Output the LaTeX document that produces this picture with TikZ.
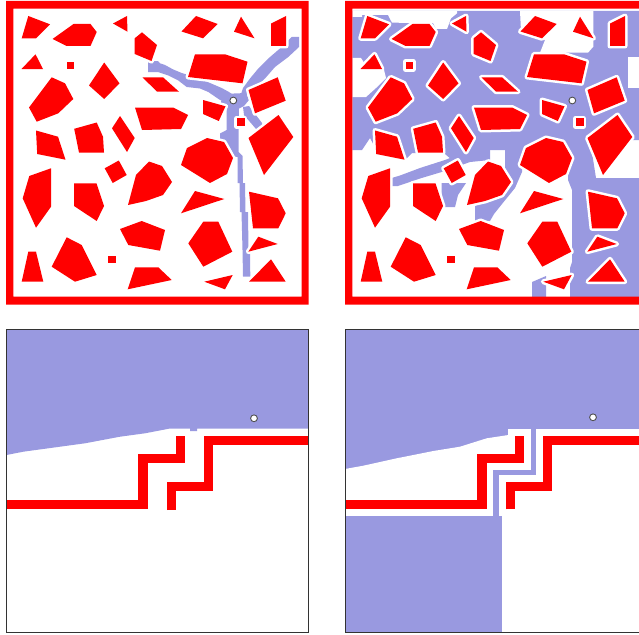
\documentclass[tikz,border=0pt]{standalone}
\definecolor{lav}{RGB}{153,153,224}
\definecolor{frameGray}{RGB}{51,51,51}
\definecolor{circGray}{RGB}{80,80,80}
\tikzset{
  halo/.style={draw=white, line width=5pt, line join=round},
  obst/.style={fill=red},
  redline/.style={draw=red, line width=9.3pt, line join=miter},
  haloline/.style={draw=white, line width=22.7pt, line join=miter},
  lavfill/.style={fill=lav},
  whitefill/.style={fill=white},
  goal/.style={circle, draw=circGray, fill=white, line width=0.9pt, minimum size=6.8pt, inner sep=0pt},
  panelframe/.style={draw=frameGray, line width=1pt},
  redframe/.style={fill=red, even odd rule},
}
\newcommand\obstacles[1]{%
\path[#1] (28.3,16)--(50,24.3)--(36,38.3)--(21.7,38.3)--cycle;
\path[#1] (52.5,39)--(73.5,24)--(90.5,24)--(96.7,32)--(90.5,46)--(66.5,46)--cycle;
\path[#1] (113,23.5)--(127,16)--(127.5,31.7)--cycle;
\path[#1] (134.7,38.3)--(142,32.3)--(157,45)--(151.5,61)--(134.7,54)--cycle;
\path[#1] (21.5,69)--(35.5,54.3)--(43,69)--cycle;
\path[#1] (66.5,61.7) rectangle (74.2,69.3);
\path[#1] (89,85.5)--(104.2,62.5)--(119.5,83.3)--(104.2,99)--cycle;
\path[#1] (142.5,77.3)--(163,77.3)--(179,91.7)--(157,91.7)--cycle;
\path[#1] (29,107.5)--(51.7,77.3)--(65,83.3)--(73.3,99)--(58.3,113.3)--(36.7,121.7)--cycle;
\path[#1] (135,107.5)--(173,107.5)--(188,115)--(181,129)--(142,130)--cycle;
\path[#1] (112,128.3)--(120,116)--(134.7,138)--(127,152)--cycle;
\path[#1] (74.2,128.8)--(96.7,122.5)--(103,136.7)--(104,152.5)--(79,152.5)--cycle;
\path[#1] (36,130.5)--(58,136.7)--(65.5,159.7)--(37.2,154)--cycle;
\path[#1] (22.7,198.3)--(29.3,176)--(51,168.3)--(51,206.7)--(36,227.7)--cycle;
\path[#1] (104.7,168.3)--(118.8,160.5)--(126.7,175)--(112.7,183)--cycle;
\path[#1] (74,183.3)--(96.5,183.3)--(104,206)--(96.7,221)--(74,206)--cycle;
\path[#1] (128,205)--(136,175)--(149,161.5)--(162,166)--(172,182)--(163,195)--(146,201)--cycle;
\path[#1] (120,229)--(141.7,221)--(165,230)--(160,250.7)--(128.3,245)--cycle;
\path[#1] (51.7,266.7)--(66.7,237.3)--(81.7,245)--(96.7,275)--(75,281.7)--cycle;
\path[#1] (21.7,281.7)--(28.3,251.7)--(36,251.7)--(43.3,281.7)--cycle;
\path[#1] (108.3,256) rectangle (115.7,263.3);
\path[#1] (127.7,289.3)--(135,267.3)--(158.3,267.3)--(171.7,280)--cycle;
\path[#1] (181,165)--(187,148)--(207,138)--(224,142)--(233,158)--(227,174)--(210,183)--cycle;
\path[#1] (248.5,138)--(278.5,115)--(293.3,137)--(264,175)--cycle;
\path[#1] (249,191.7)--(278,198.3)--(285.7,213.3)--(278.3,228.3)--(253,228.3)--cycle;
\path[#1] (248.3,251.7)--(258.3,236.7)--(277.7,244)--cycle;
\path[#1] (249,281.7)--(271,259.3)--(285.7,281.7)--cycle;
\path[#1] (188.3,243.3)--(203.3,221.7)--(218.3,221.7)--(232.3,251.7)--(203.3,266.7)--cycle;
\path[#1] (181,213.3)--(195,191)--(224.3,199)--cycle;
\path[#1] (204.3,281.7)--(232.7,275)--(225,289.3)--cycle;
\path[#1] (181.5,31.5)--(196,16)--(217.7,24)--(203,38.3)--cycle;
\path[#1] (234,31.7)--(241,16.7)--(254.5,38.3)--cycle;
\path[#1] (271,23.5)--(286,16)--(286,46)--(271,46)--cycle;
\path[#1] (188,77)--(195,54.3)--(225,54.3)--(247.5,61.7)--(242.5,83.3)--cycle;
\path[#1] (248.5,90)--(277.7,77.3)--(285.7,100.7)--(255,113.3)--cycle;
\path[#1] (203,100)--(225.5,106.3)--(218.8,121)--(203,114)--cycle;
\path[#1] (236.7,118.3) rectangle (244.5,126.3);
}
\begin{document}
\begin{tikzpicture}[x=1pt,y=-1pt]
\clip (0,0) rectangle (639,634);
\useasboundingbox (0,0) rectangle (639,634);

% ---------- top left panel ----------
\path[lavfill] (148,61)--(158,61)--(160,63.3)--(165,65)--(173.3,69.5)--(181.7,73)--(191.7,76)--(201.7,79.5)--(210,83)--(221.7,88)--(229,92)--(236,97)--(232,104)--(220,100)--(208.3,92)--(200,88.5)--(186.7,87)--(178.3,80.5)--(168.3,75.5)--(158,72)--(148,72)--cycle;
\path[lavfill] (291.7,37)--(299,37)--(299,47)--(288.3,57)--(275,67)--(265,78.5)--(255,87.5)--(247,95)--(240,97)--(243,88)--(250,78.5)--(258.3,68.5)--(270,57)--(281.7,47)--cycle;
\path[lavfill] (222,94)--(246,93)--(249,100)--(244,106)--(239,108.5)--(238.5,133)--(238.5,152)--(242.5,156)--(243,183)--(245,183)--(245.5,212)--(248,212)--(248.5,250)--(250,250)--(250.3,276.5)--(243,276.5)--(242.5,250)--(241.5,212)--(240,212)--(239.5,183)--(237.5,183)--(237.5,157)--(231,156)--(225,153)--(220,150)--(220,133.5)--(226.7,130)--(226.7,108)--(221,103)--cycle;
\path[lavfill] (243,107)--(249,106)--(262,123)--(262,129)--(256,129)--(244,115)--cycle;
\obstacles{halo}
\obstacles{obst}
\path[redframe] (6,1) rectangle (308.5,304.5) (13.3,8.7) rectangle (301.5,296.7);
\node[goal] (goalA) at (233.3,100.5) {};

% ---------- top right panel ----------
\begin{scope}
\clip (352.3,8.7) rectangle (639,296.7);
\path[lavfill] (352,11)--(639,11)--(639,140)--(570,140)--(570,165)--(522,165)--(522,150)--(470,150)--(452,160)--(445,154)--(412,153)--(405,160)--(377,151)--(370,138)--(362,150)--(352,150)--cycle;
\path[whitefill] (352,11)--(457,11)--(457,13.3)--(451,18.3)--(447,29)--(436,29)--(433,23)--(392,22.7)--(388,15)--(362,15)--(362,17)--(352,17)--cycle;
\path[whitefill] (520,11)--(593.3,11)--(593.3,46.7)--(588,52.7)--(540,52.7)--(545,40)--(521,31)--cycle;
\path[whitefill] (628,57) rectangle (639,88);
\path[whitefill] (352,58)--(361,58)--(368,69)--(384,70)--(386,78)--(376,88)--(366,97)--(352,97)--cycle;
\path[lavfill] (391.7,178)--(392,186)--(398,186)--(420,178.5)--(445,171)--(470,162)--(490,160)--(490,150)--(470,150)--(445,160)--(420,168)--(400,175.5)--cycle;
\path[lavfill] (441.7,183)--(466,183)--(458,195)--(455,207)--(445,207)--(441.7,195)--cycle;
\path[lavfill] (505,150)--(522,150)--(522,172)--(515,188)--(502,204)--(494,214)--(490,221)--(475,221)--(475,206)--(487,200)--(497,190)--(505,178)--cycle;
\path[lavfill] (568,140)--(590,140)--(596,178)--(639,178)--(639,297)--(570,297)--(570,268)--(572,262)--(572,190)--(568,180)--cycle;
\path[lavfill] (532,282)--(546,276)--(546,297)--(532,297)--cycle;
\end{scope}
\begin{scope}[xshift=339pt]
\obstacles{halo}
\obstacles{obst}
\end{scope}
\path[redframe] (345,1) rectangle (650,304.5) (352.3,8.7) rectangle (641,296.7);
\node[goal] (goalB) at (572.3,100.5) {};

% ---------- bottom left panel ----------
\path[lavfill] (6.5,329.5)--(308.5,329.5)--(308.5,428.5)--(197,428.5)--(197,431)--(190,431)--(190,428.5)--(170,428.5)--(145,433.3)--(120,436.7)--(85,443.3)--(60,446.7)--(23.3,451.7)--(6.5,455)--cycle;
\draw[redline] (6.5,504.65)--(143,504.65)--(143,458.2)--(180.65,458.2)--(180.65,435.7);
\draw[redline] (171.35,510)--(171.35,486.5)--(208.35,486.5)--(208.35,440.35)--(308.5,440.35);
\node[goal] (goalC) at (254,418.3) {};
\draw[panelframe] (6.5,329.5) rectangle (308.5,632.5);

% ---------- bottom right panel ----------
\begin{scope}
\clip (345.5,329.5) rectangle (639,632.5);
\path[lavfill] (345.5,329.5) rectangle (648,632.5);
\path[whitefill] (345,469)--(363.3,465.7)--(396.7,458.3)--(433.3,451)--(460,446.7)--(486.7,438.3)--(508.5,435)--(508.5,450)--(475,450)--(475,500)--(345,500)--cycle;
\path[whitefill] (502.3,482) rectangle (648,632.5);
\path[whitefill] (552,445) rectangle (648,632.5);
\draw[haloline] (340,504.65)--(482,504.65)--(482,458.2)--(519.65,458.2)--(519.65,429);
\draw[haloline] (510.35,516)--(510.35,486.5)--(547.35,486.5)--(547.35,440.35)--(650,440.35);
\draw[redline] (340,504.65)--(482,504.65)--(482,458.2)--(519.65,458.2)--(519.65,435.7);
\draw[redline] (510.35,509.3)--(510.35,486.5)--(547.35,486.5)--(547.35,440.35)--(650,440.35);
\end{scope}
\node[goal] (goalD) at (593,417.3) {};
\draw[panelframe] (345.5,329.5) rectangle (648,632.5);
\end{tikzpicture}
\end{document}
